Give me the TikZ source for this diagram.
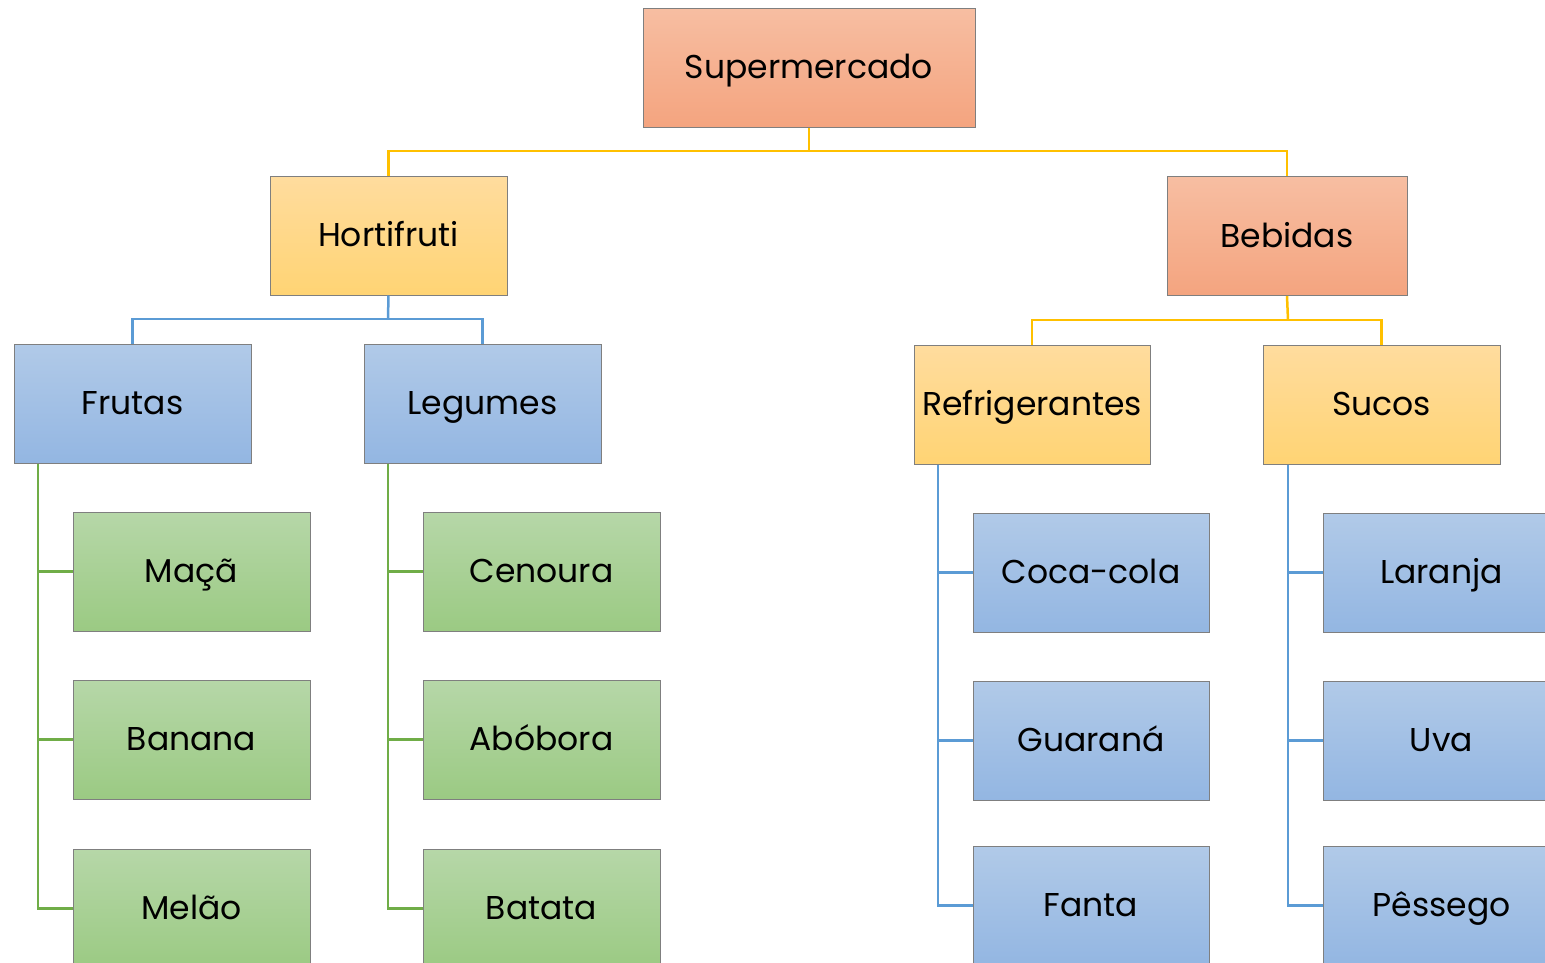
\documentclass[tikz,border=0pt]{standalone}
\usepackage{fontspec}
\setmainfont{Poppins}
\definecolor{oTop}{HTML}{F7BEA2}
\definecolor{oBot}{HTML}{F4A47F}
\definecolor{yTop}{HTML}{FFDC9E}
\definecolor{yBot}{HTML}{FFD474}
\definecolor{bTop}{HTML}{B1CAE8}
\definecolor{bBot}{HTML}{93B6E2}
\definecolor{gTop}{HTML}{B6D7A8}
\definecolor{gBot}{HTML}{9BCA83}
\definecolor{edgeC}{HTML}{7F7F7F}
\definecolor{lnY}{HTML}{FFC000}
\definecolor{lnB}{HTML}{5B9BD5}
\definecolor{lnG}{HTML}{70AD47}
\tikzset{
  box/.style={draw=edgeC, line width=1pt, minimum width=237pt, minimum height=119pt, inner sep=0pt, text height=30pt, text depth=8pt, font=\fontsize{33}{38}\selectfont, text=black},
  obox/.style={box, top color=oTop, bottom color=oBot},
  ybox/.style={box, top color=yTop, bottom color=yBot},
  bbox/.style={box, top color=bTop, bottom color=bBot},
  gbox/.style={box, top color=gTop, bottom color=gBot},
  yl/.style={draw=lnY, line width=2.5pt},
  bl/.style={draw=lnB, line width=2.5pt},
  gl/.style={draw=lnG, line width=2.5pt},
}
\begin{document}
\begin{tikzpicture}[x=1pt,y=-1pt]
\useasboundingbox (0,0) rectangle (1545,962);
\begin{scope}
\clip (0,0) rectangle (1545,962);
\coordinate (j0) at (809,151);
\coordinate (j1) at (388,319);
\coordinate (j2) at (1288,320);

\node[obox, minimum width=332pt] (sup) at (809,67.5) {Supermercado};
\node[ybox] (hor) at (388.5,235.5) {Hortifruti};
\node[obox, minimum width=240pt] (beb) at (1287,236) {Bebidas};
\node[bbox] (fru) at (132.5,403.5) {Frutas};
\node[bbox] (leg) at (482.5,403.5) {Legumes};
\node[ybox, minimum width=236pt] (ref) at (1032,404.5) {Refrigerantes};
\node[ybox] (suc) at (1381.5,404.5) {Sucos};

\node[gbox] (mac) at (191.5,571.5) {Maçã};
\node[gbox] (ban) at (191.5,739.5) {Banana};
\node[gbox] (mel) at (191.5,908.5) {Melão};
\node[gbox] (cen) at (541.5,571.5) {Cenoura};
\node[gbox] (abo) at (541.5,739.5) {Abóbora};
\node[gbox] (bat) at (541.5,908.5) {Batata};

\node[bbox, minimum width=236pt] (coc) at (1091,572.5) {Coca-cola};
\node[bbox, minimum width=236pt] (gua) at (1091,740.5) {Guaraná};
\node[bbox, minimum width=236pt] (fan) at (1091,905.5) {Fanta};
\node[bbox] (lar) at (1441.5,572.5) {Laranja};
\node[bbox] (uva) at (1441.5,740.5) {Uva};
\node[bbox] (pes) at (1441.5,905.5) {Pêssego};

% level 1
\draw[yl] (sup.south) -- (j0);
\draw[yl] (j0) -| (hor.north);
\draw[yl] (j0) -| (beb.north);
% level 2
\draw[bl] (hor.south) -- (j1);
\draw[bl] (j1) -| (fru.north);
\draw[bl] (j1) -| (leg.north);
\draw[yl] (beb.south) -- (j2);
\draw[yl] (j2) -| (ref.north);
\draw[yl] (j2) -| (suc.north);
% level 3
\draw[gl] ([xshift=-94.5pt]fru.south) |- (mac.west);
\draw[gl] ([xshift=-94.5pt]fru.south) |- (ban.west);
\draw[gl] ([xshift=-94.5pt]fru.south) |- (mel.west);
\draw[gl] ([xshift=-94.5pt]leg.south) |- (cen.west);
\draw[gl] ([xshift=-94.5pt]leg.south) |- (abo.west);
\draw[gl] ([xshift=-94.5pt]leg.south) |- (bat.west);
\draw[bl] ([xshift=-94pt]ref.south) |- (coc.west);
\draw[bl] ([xshift=-94pt]ref.south) |- (gua.west);
\draw[bl] ([xshift=-94pt]ref.south) |- (fan.west);
\draw[bl] ([xshift=-93.5pt]suc.south) |- (lar.west);
\draw[bl] ([xshift=-93.5pt]suc.south) |- (uva.west);
\draw[bl] ([xshift=-93.5pt]suc.south) |- (pes.west);
\end{scope}
\end{tikzpicture}
\end{document}
